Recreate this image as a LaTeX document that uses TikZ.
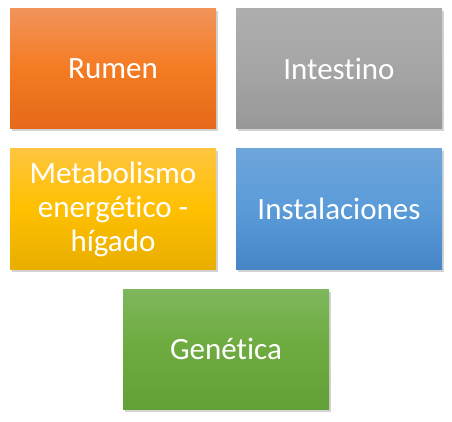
\documentclass[tikz,border=0pt]{standalone}
\usepackage{fontspec}
\setmainfont{Carlito}[Ligatures={NoCommon,NoDiscretionary,NoRare}]
\usetikzlibrary{shadows}

\definecolor{rumtop}{HTML}{F2935B}
\definecolor{rummid}{HTML}{F47B22}
\definecolor{rumbot}{HTML}{E5691A}
\definecolor{inttop}{HTML}{AEAEAE}
\definecolor{intmid}{HTML}{A5A5A5}
\definecolor{intbot}{HTML}{989898}
\definecolor{mettop}{HTML}{FFC53E}
\definecolor{metmid}{HTML}{FFC000}
\definecolor{metbot}{HTML}{E8AE00}
\definecolor{instop}{HTML}{6EA5DB}
\definecolor{insmid}{HTML}{5A9BD8}
\definecolor{insbot}{HTML}{4686C7}
\definecolor{gentop}{HTML}{7EB75C}
\definecolor{genmid}{HTML}{6DAA3F}
\definecolor{genbot}{HTML}{62A038}

\tikzset{
	caja/.style={draw=none, minimum width=206pt, minimum height=120pt,
		inner sep=0pt, align=center, text=white,
		font=\fontsize{31}{34}\selectfont,
		drop shadow={shadow xshift=1.5pt, shadow yshift=-2.5pt, opacity=0.35}},
	tono/.style={top color=#1top, bottom color=#1bot, middle color=#1mid}
}

\begin{document}
\begin{tikzpicture}[x=1pt,y=1pt]
	\useasboundingbox (0,0) rectangle (452,-422);
	%% fila de arriba
	\node[caja, tono=rum] (rumen) at (113,-69) {Rumen};
	\node[caja, tono=int] (intestino) at (339,-69) {Intestino};
	%% fila del medio
	\node[caja, tono=met] (metabolismo) at (113,-209) {Metabolismo\\energético -\\hígado};
	\node[caja, tono=ins] (instalaciones) at (339,-209) {Instalaciones};
	%% abajo
	\node[caja, tono=gen] (genetica) at (226,-349) {Genética};
\end{tikzpicture}
\end{document}
